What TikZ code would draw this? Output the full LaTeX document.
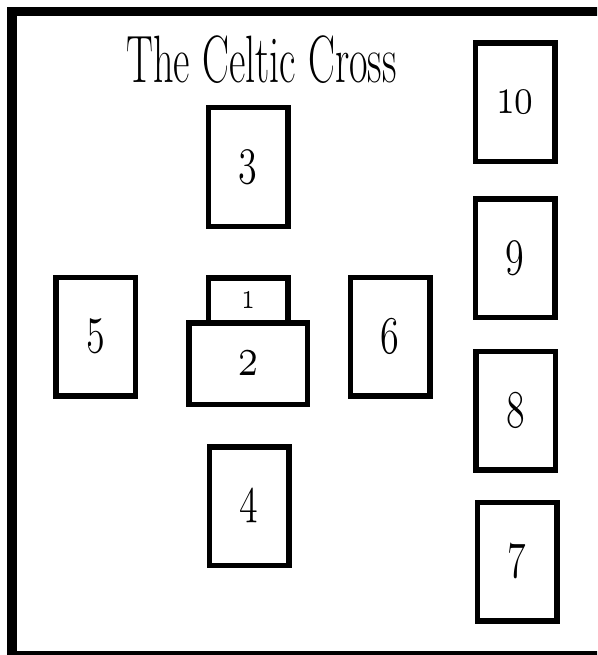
\RequirePackage{fix-cm}
\documentclass[tikz,border=0pt]{standalone}
\usepackage{graphicx}
\newcommand{\cardnum}[2][53]{\scalebox{0.72}[1]{\fontsize{#1}{#1}\usefont{OML}{cmm}{m}{it}#2}}
\begin{document}
\begin{tikzpicture}[x=1pt,y=-1pt,
  card/.style={draw=black, line width=5.5pt, fill=white, inner sep=0pt,
    minimum width=79.5pt, minimum height=118.5pt},
  widecard/.style={card, minimum width=118.5pt, minimum height=81.5pt},
  frame/.style={draw=black, line width=9.5pt}]
\useasboundingbox (0,0) rectangle (597,655);
\clip (0,0) rectangle (597,655);
\fill[white] (0,0) rectangle (597,655);
\draw[frame] (640,11.5) -- (11.75,11.5) -- (11.75,655.5) -- (640,655.5);
\node[anchor=base] (title) at (261.5,83)
  {\scalebox{0.6}[1]{\fontsize{67}{67}\selectfont The Celtic Cross}};
% right column
\node[card] (c10) at (515,102.5) {\cardnum{10}};
\node[card] (c9) at (515.3,258.4) {\cardnum{9}};
\node[card] (c8) at (515.5,410.5) {\cardnum{8}};
\node[card] (c7) at (517,561.5) {\cardnum{7}};
% cross
\node[card] (c3) at (248,167) {\cardnum{3}};
\node[card, minimum height=119.5pt] (c1) at (248,337.5) {};
\node (n1) at (248,300) {\cardnum[38]{1}};
\node[widecard] (c2) at (248,363.5) {\cardnum[56]{2}};
\node[card] (c5) at (95.5,336.5) {\cardnum{5}};
\node[card] (c6) at (390,336.5) {\cardnum{6}};
\node[card] (c4) at (249,506) {\cardnum{4}};
\end{tikzpicture}
\end{document}
